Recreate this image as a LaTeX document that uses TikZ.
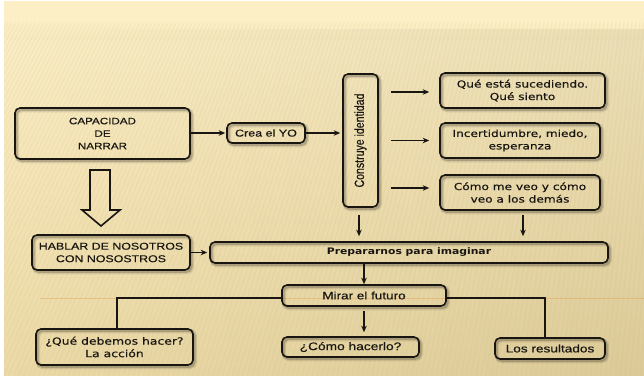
\documentclass[tikz,border=0pt]{standalone}
\usepackage{fontspec}
\setmainfont{Liberation Sans}
\newfontfamily\arialw[FakeStretch=1.25,FakeBold=0.4]{Liberation Sans}
\newfontfamily\verdw[FakeStretch=1.25,FakeBold=0.4]{DejaVu Sans}
\newfontfamily\verdb[FakeStretch=1.2]{DejaVu Sans Bold}
\newfontfamily\arialn[FakeStretch=0.8,FakeBold=0.4]{Liberation Sans}
\usetikzlibrary{arrows.meta,calc}
\definecolor{bgtop}{RGB}{252,239,198}
\definecolor{bgmid}{RGB}{244,227,178}
\definecolor{bgbot}{RGB}{234,216,162}
\definecolor{stripe}{RGB}{200,175,110}
\definecolor{theme}{RGB}{232,160,80}
\definecolor{ink}{RGB}{25,22,18}
\tikzset{
  box/.style={draw=ink, line width=1.6pt, rounded corners=5pt, inner sep=0pt,
    align=center, text=ink,
    preaction={draw=black, opacity=0.10, line width=4.5pt, transform canvas={shift={(1.8pt,-2pt)}}},
    preaction={draw=black, opacity=0.18, line width=2.2pt, transform canvas={shift={(1.5pt,-1.8pt)}}}},
  arr/.style={-{Stealth[length=6.5pt,width=5.5pt]}, line width=1.3pt, draw=ink},
  link/.style={line width=1.3pt, draw=ink},
  fa/.style={font=\arialw\fontsize{#1}{12.5}\selectfont},
  fv/.style={font=\verdw\fontsize{#1}{12.5}\selectfont},
}
\begin{document}
\begin{tikzpicture}[x=1pt,y=-1pt]
\useasboundingbox (0,0) rectangle (644,377);
% background
\fill[white] (0,0) rectangle (644,377);
\shade[top color=bgtop, bottom color=bgbot, middle color=bgmid] (4,2) rectangle (644,375);
\fill[bgtop] (4,2) rectangle (644,20);
\shade[top color=bgtop, bottom color=bgtop!60!bgmid] (4,20) rectangle (644,40);
\shade[left color=white, right color=black, opacity=0.06] (4,30) rectangle (644,375);
\begin{scope}
\clip (4,22) rectangle (644,375);
\foreach \x in {0,4,...,820} {
  \pgfmathsetmacro{\dx}{max(0,170*(1-\x/700))+25}
  \draw[stripe, opacity=0.10, line width=1.4pt] (\x,22) -- (\x-\dx,375);
}
\end{scope}
\draw[theme, opacity=0.45, line width=0.6pt] (40,298) -- (644,298);

% nodes
\node[box, minimum width=175pt, minimum height=51pt, fa=9.3] (cap) at (102.5,133.5) {CAPACIDAD\\DE\\NARRAR};
\node[box, minimum width=78pt, minimum height=20pt, fa=10] (crea) at (266,133) {Crea el YO};
\node[box, minimum width=35pt, minimum height=133pt] (cons) at (360.5,140.5) {};
\node[rotate=90, text=ink, font=\arialn\fontsize{13.2}{14}\selectfont, inner sep=0pt] (consT) at (cons.center) {Construye identidad};
\node[box, minimum width=165pt, minimum height=35pt, fv=9.7] (b1) at (522.5,90.5) {Qué está sucediendo.\\Qué siento};
\node[box, minimum width=160pt, minimum height=35pt, fv=9.7] (b2) at (520,140.5) {Incertidumbre, miedo,\\esperanza};
\node[box, minimum width=160pt, minimum height=35pt, fv=9.7] (b3) at (520,192.5) {Cómo me veo y cómo\\veo a los demás};
\node[box, minimum width=158pt, minimum height=35pt, fa=9.9] (hab) at (111,252.5) {HABLAR DE NOSOTROS\\CON NOSOSTROS};
\node[box, minimum width=398pt, minimum height=21pt, font=\verdb\fontsize{9}{11}\selectfont] (prep) at (409,252.5) {Prepararnos para imaginar};
\node[box, minimum width=164pt, minimum height=21pt, fa=10.8] (mir) at (364,295.5) {Mirar el futuro};
\node[box, minimum width=157pt, minimum height=36pt, fv=9.9] (que) at (114.5,347) {¿Qué debemos hacer?\\La acción};
\node[box, minimum width=137pt, minimum height=20pt, fa=11] (como) at (350.5,347) {¿Cómo hacerlo?};
\node[box, minimum width=110pt, minimum height=21pt, fa=10.9] (res) at (550,348.5) {Los resultados};

% hollow block arrow
\draw[ink, line width=1.6pt, line join=miter]
  (90,170) -- (110,170) -- (110,210) -- (120,210) -- (101,226) -- (82,210) -- (90,210) -- cycle;

% connectors
\draw[arr, shorten >=1pt] (cap.east |- crea.west) -- (crea.west);
\draw[arr, shorten >=2pt] (crea.east) -- (cons.west |- crea.east);
\draw[arr, shorten <=12pt, shorten >=10pt] ($(cons.east |- b1.west)+(0,1.5)$) -- ($(b1.west)+(0,1.5)$);
\draw[arr, shorten <=12pt, shorten >=10pt] (cons.east |- b2.west) -- (b2.west);
\draw[arr, shorten <=12pt, shorten >=10pt] ($(cons.east |- b3.west)+(0,-4.5)$) -- ($(b3.west)+(0,-4.5)$);
\draw[arr, shorten <=7pt, shorten >=5pt] ($(cons.south)+(-1.5,0)$) -- ($(cons.south |- prep.north)+(-1.5,0)$);
\draw[arr, shorten <=4pt, shorten >=5pt] ($(b3.south)+(3,0)$) -- ($(b3.south |- prep.north)+(3,0)$);
\draw[arr, shorten >=2pt] (hab.east) -- (prep.west |- hab.east);
\draw[arr] (mir.north |- prep.south) -- (mir.north);
\draw[arr, shorten <=4pt, shorten >=4pt] (mir.south) -- (mir.south |- como.north);
\draw[link] ($(mir.west)+(0,2.5)$) -| ($(que.north)+(2.5,0)$);
\draw[link] ($(mir.east)+(0,2.5)$) -| ($(res.north)+(-5,0)$);
\end{tikzpicture}
\end{document}
